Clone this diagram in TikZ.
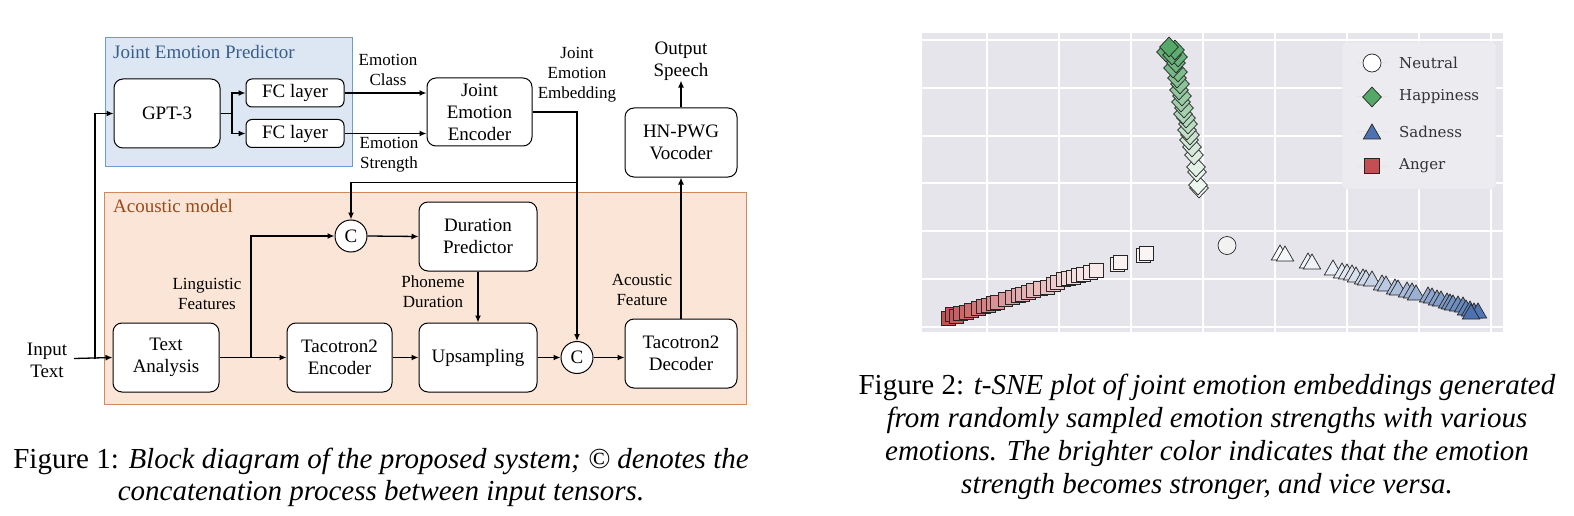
\documentclass[tikz,border=0pt]{standalone}
\usepackage{fontspec}
\setmainfont{Liberation Serif}
\newfontfamily\plotfont{DejaVu Serif}
\usetikzlibrary{arrows.meta,shapes.geometric}
\definecolor{jepfill}{HTML}{DCE7F3}
\definecolor{jepline}{HTML}{6D9BD1}
\definecolor{jeptext}{HTML}{3A5E8C}
\definecolor{amfill}{HTML}{FBE5D6}
\definecolor{amline}{HTML}{D08A5A}
\definecolor{amtext}{HTML}{9A4A1A}
\definecolor{plotbg}{HTML}{E5E5EB}
\definecolor{legfill}{HTML}{EBEBF0}
\definecolor{hapgreen}{HTML}{55A868}
\definecolor{sadblue}{HTML}{4C72B0}
\definecolor{angred}{HTML}{C44E52}

\begin{document}
\begin{tikzpicture}[x=1pt,y=-1pt,
    block/.style={draw,rounded corners=9pt,fill=white,line width=1pt,align=center,font=\fontsize{19}{22}\selectfont,minimum width=106pt,minimum height=69pt,inner sep=2pt},
    concat/.style={draw,circle,fill=white,line width=1pt,minimum size=32pt,inner sep=0,font=\fontsize{19}{22}\selectfont},
    lbl/.style={align=center,font=\fontsize{17}{20}\selectfont,inner sep=0},
    arr/.style={line width=1.3pt,-{Latex[length=7pt,width=6pt]}},
    ln/.style={line width=1.3pt},
    neutralmk/.style={circle,draw=black!85,line width=0.7pt,minimum size=18pt,inner sep=0},
    happymk/.style={diamond,draw=black!85,line width=0.7pt,minimum width=19pt,minimum height=20pt,inner sep=0},
    sadmk/.style={regular polygon,regular polygon sides=3,draw=black!85,line width=0.7pt,minimum size=20pt,inner sep=0},
    angrymk/.style={rectangle,draw=black!85,line width=0.7pt,minimum size=14pt,inner sep=0}]
  \useasboundingbox (0,0) rectangle (1574,516);

  % group boxes
  \draw[fill=jepfill,draw=jepline,line width=1pt] (105,38) rectangle (352,166);
  \node[anchor=north west,text=jeptext,font=\fontsize{19}{22}\selectfont,inner sep=0] (jeptitle) at (113,45) {Joint Emotion Predictor};
  \draw[fill=amfill,draw=amline,line width=1pt] (104,192) rectangle (746,404);
  \node[anchor=north west,text=amtext,font=\fontsize{19}{22}\selectfont,inner sep=0] (amtitle) at (113,199) {Acoustic model};

  % blocks
  \node[block] (gpt) at (167,113.5) {GPT-3};
  \node[block,rounded corners=6pt,minimum width=98pt,minimum height=28pt] (fc1) at (295,93) {FC layer};
  \node[block,rounded corners=6pt,minimum width=98pt,minimum height=28pt] (fc2) at (295,133.5) {FC layer};
  \node[block,minimum width=105pt,minimum height=68pt] (enc) at (479.5,112) {Joint\\Emotion\\Encoder};
  \node[block,minimum width=112pt] (voc) at (681,142.5) {HN-PWG\\Vocoder};
  \node[block] (ta) at (166,357.5) {Text\\Analysis};
  \node[block,minimum width=105pt] (tenc) at (339.5,357.5) {Tacotron2\\Encoder};
  \node[block,minimum width=118pt] (dp) at (478,236.5) {Duration\\Predictor};
  \node[block,minimum width=118pt] (ups) at (478,357.5) {Upsampling};
  \node[block,minimum width=112pt] (dec) at (681,353.5) {Tacotron2\\Decoder};
  \node[concat] (c1) at (351,236) {C};
  \node[concat] (c2) at (577,357.5) {C};

  % labels
  \node[lbl,font=\fontsize{19}{22}\selectfont] (inp) at (47,360) {Input\\Text};
  \node[lbl,font=\fontsize{19}{22}\selectfont] (speech) at (681,61) {Output\\Speech};
  \node[lbl] (ecls) at (388,70) {Emotion\\Class};
  \node[lbl] (estr) at (389,155) {Emotion\\Strength};
  \node[lbl] (jemb) at (577,75) {Joint\\Emotion\\Embedding};
  \node[lbl] (ling) at (207,294) {Linguistic\\Features};
  \node[lbl] (phon) at (433,292) {Phoneme\\Duration};
  \node[lbl] (acf) at (642,290) {Acoustic\\Feature};

  % connectors
  \coordinate (split) at (95,358.5);
  \coordinate (fork) at (232,113.5);
  \coordinate (lf) at (251,357.5);
  \coordinate (tap) at (577,182.5);
  \draw[arr] (74,358.5) -- (ta.west);
  \draw[arr] (split) |- (gpt.west);
  \draw[ln] (gpt.east) -- (fork);
  \draw[arr] (fork) |- (fc1.west);
  \draw[arr] (fork) |- (fc2.west);
  \draw[arr] (fc1.east) -- (fc1.east -| enc.west);
  \draw[arr] (fc2.east) -- (fc2.east -| enc.west);
  \draw[arr] (enc.east) -| (c2.north);
  \draw[arr] (tap) -| (c1.north);
  \draw[arr] (ta.east) -- (tenc.west);
  \draw[arr] (lf) |- (c1.west);
  \draw[arr] (c1.east) -- (dp.west);
  \draw[arr] (dp.south) -- (ups.north);
  \draw[arr] (tenc.east) -- (ups.west);
  \draw[arr] (ups.east) -- (c2.west);
  \draw[arr] (c2.east) -- (c2.east -| dec.west);
  \draw[arr] (dec.north) -- (voc.south);
  \draw[arr] (voc.north) -- (speech.south);

  % t-SNE plot
  \fill[plotbg] (922,33) rectangle (1503,332);
  \foreach \gx in {987,1059,1131,1203,1275,1347,1419,1491}
    \draw[white,line width=1.2pt] (\gx,33) -- (\gx,332);
  \foreach \gy in {40,88,136,183,231,279,327}
    \draw[white,line width=1.2pt] (922,\gy) -- (1503,\gy);

  \node[neutralmk,fill=white!95!black] (neu) at (1227,245.5) {};
  \foreach \px/\py/\pc [count=\k] in {948/318/100,952/314/97,956/316/94,960/313/90,966/312/86,971/310/82,978/308/78,983/306/74,988/305/70,993/303/66,997/302/62,1005/299/58,1012/297/54,1018/295/50,1022/294/47,1028/292/44,1033/290/41,1040/288/38,1047/287/35,1053/284/32,1057/282/29,1063/279/26,1068/278/23,1073/277/21,1078/275/18,1083/274/16,1090/272/14,1096/270/12,1117/264/9,1120/262/8,1143/255/7,1146/253/6}
    \node[angrymk,fill=angred!\pc!white] (ang\k) at (\px,\py) {};
  \foreach \px/\py/\pc [count=\k] in {1199/188/8,1198/185/10,1197/172/13,1196/167/16,1194/155/20,1192/147/24,1189/140/28,1190/135/32,1187/130/36,1188/124/40,1186/118/44,1183/114/48,1184/108/52,1181/102/56,1182/96/60,1179/90/64,1180/84/68,1177/78/72,1178/72/76,1173/68/80,1176/63/85,1166/52/90,1178/57/88,1172/55/92,1175/50/95,1169/47/100}
    \node[happymk,fill=hapgreen!\pc!white] (hap\k) at (\px,\py) {};
  \foreach \px/\py/\pc [count=\k] in {1280/255/5,1285/256/6,1308/263/8,1312/264/9,1333/270/12,1342/273/15,1347/274/17,1352/275/19,1356/277/22,1363/279/25,1366/280/28,1372/281/31,1382/285/35,1386/286/38,1395/289/42,1398/290/45,1407/292/48,1412/293/52,1416/295/56,1428/297/60,1432/298/63,1437/300/66,1441/301/69,1447/303/72,1450/304/75,1453/305/78,1458/306/81,1463/307/84,1466/310/87,1470/311/90,1474/313/94,1478/313/97,1471/314/100}
    \node[sadmk,fill=sadblue!\pc!white] (sad\k) at (\px,\py) {};

  % legend
  \draw[fill=legfill,draw=black!12,rounded corners=3pt] (1342,42) rectangle (1496,189);
  \foreach \ly in {63,97,132,166}
    \draw[black!10,line width=1pt] (1357,\ly) -- (1388,\ly);
  \node[neutralmk,fill=white] (kneu) at (1372,63) {};
  \node[happymk,fill=hapgreen] (khap) at (1372,97) {};
  \node[sadmk,fill=sadblue] (ksad) at (1372,134) {};
  \node[angrymk,fill=angred,minimum size=15pt] (kang) at (1372,166) {};
  \node[anchor=west,inner sep=0,text=black!80,font=\plotfont\fontsize{15}{18}\selectfont] (tneu) at (1399,63) {Neutral};
  \node[anchor=west,inner sep=0,text=black!80,font=\plotfont\fontsize{15}{18}\selectfont] (thap) at (1399,97) {Happiness};
  \node[anchor=west,inner sep=0,text=black!80,font=\plotfont\fontsize{15}{18}\selectfont] (tsad) at (1399,132) {Sadness};
  \node[anchor=west,inner sep=0,text=black!80,font=\plotfont\fontsize{15}{18}\selectfont] (tang) at (1399,166) {Anger};

  % captions
  \node[align=center,font=\fontsize{29}{32}\selectfont,inner sep=0] (cap1) at (381,477)
    {Figure 1: \textit{Block diagram of the proposed system; \textcopyright\ denotes the}\\
     \textit{concatenation process between input tensors.}};
  \node[align=center,font=\fontsize{29}{33}\selectfont,inner sep=0] (cap2) at (1207,437)
    {Figure 2: \textit{t-SNE plot of joint emotion embeddings generated}\\
     \textit{from randomly sampled emotion strengths with various}\\
     \textit{emotions. The brighter color indicates that the emotion}\\
     \textit{strength becomes stronger, and vice versa.}};
\end{tikzpicture}
\end{document}
